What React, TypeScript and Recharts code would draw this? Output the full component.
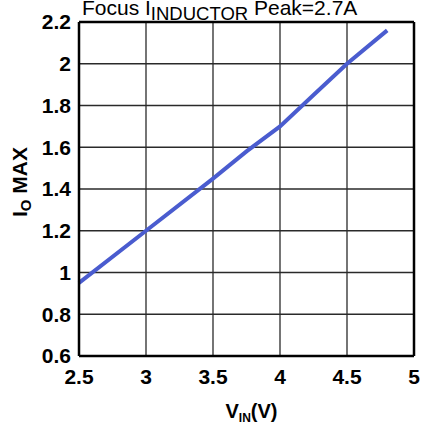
import React from "react";
import {
  LineChart,
  Line,
  XAxis,
  YAxis,
  CartesianGrid,
  ReferenceLine,
} from "recharts";

// V_IN (V) sample points and the max output current
const vin = [2.5, 3, 3.5, 3.75, 4, 4.25, 4.5, 4.8];
const ioMax = [0.95, 1.2, 1.45, 1.58, 1.7, 1.85, 2.0, 2.16];

const xTicks = [2.5, 3, 3.5, 4, 4.5, 5];
const yTicks = [0.6, 0.8, 1, 1.2, 1.4, 1.6, 1.8, 2, 2.2];

const data = vin.map((v, i) => ({ vin: v, io: ioMax[i] }));

const FONT = "'Liberation Sans', Arial, sans-serif";
const tickStyle = { fontSize: 21, fontWeight: 700, fill: "#000", fontFamily: FONT };

export default function App() {
  return (
    <div style={{ position: "absolute", left: 0, top: 0, width: 423, height: 426, background: "#fff" }}>
      <LineChart
        width={423}
        height={426}
        data={data}
        margin={{ top: 22, right: 9, left: 0, bottom: 0 }}
      >
        <CartesianGrid stroke="#2a2a2a" strokeWidth={1.3} />
        <XAxis
          type="number"
          dataKey="vin"
          domain={[2.5, 5]}
          ticks={xTicks}
          interval={0}
          height={70}
          tickLine={false}
          tickMargin={7}
          axisLine={{ stroke: "#000", strokeWidth: 2.5 }}
          tick={tickStyle}
          label={{
            content: (props: any) => {
              const vb = props.viewBox || {};
              const cx = vb.x + vb.width / 2 + 5;
              return (
                <text x={cx} y={418} textAnchor="middle" fontFamily={FONT} fontSize={20} fontWeight={700} fill="#000">
                  V
                  <tspan fontSize={12} dy={4}>IN</tspan>
                  <tspan dy={-4}>(V)</tspan>
                </text>
              );
            },
          }}
        />
        <YAxis
          type="number"
          domain={[0.6, 2.2]}
          ticks={yTicks}
          interval={0}
          width={79}
          tickLine={false}
          axisLine={{ stroke: "#000", strokeWidth: 2.5 }}
          tick={tickStyle}
          label={{
            content: () => (
              <text
                x={27}
                y={182}
                transform="rotate(-90 27 182)"
                textAnchor="middle"
                fontFamily={FONT}
                fontSize={21}
                fontWeight={700}
                fill="#000"
              >
                I
                <tspan fontSize={15} dy={4}>O</tspan>
                <tspan dy={-4}> MAX</tspan>
              </text>
            ),
          }}
        />
        <ReferenceLine x={5} stroke="#000" strokeWidth={2.5} />
        <ReferenceLine y={2.2} stroke="#000" strokeWidth={2.5} />
        <Line
          type="linear"
          dataKey="io"
          stroke="#4a5ccf"
          strokeWidth={4}
          dot={false}
          isAnimationActive={false}
        />
      </LineChart>
      <svg
        width={423}
        height={426}
        style={{ position: "absolute", left: 0, top: 0, pointerEvents: "none" }}
      >
        <text x={82} y={15} fontFamily={FONT} fontSize={21} fill="#000">
          Focus I
          <tspan fontSize={18.5} dy={5}>INDUCTOR</tspan>
          <tspan dy={-5}> Peak=2.7A</tspan>
        </text>
      </svg>
    </div>
  );
}
